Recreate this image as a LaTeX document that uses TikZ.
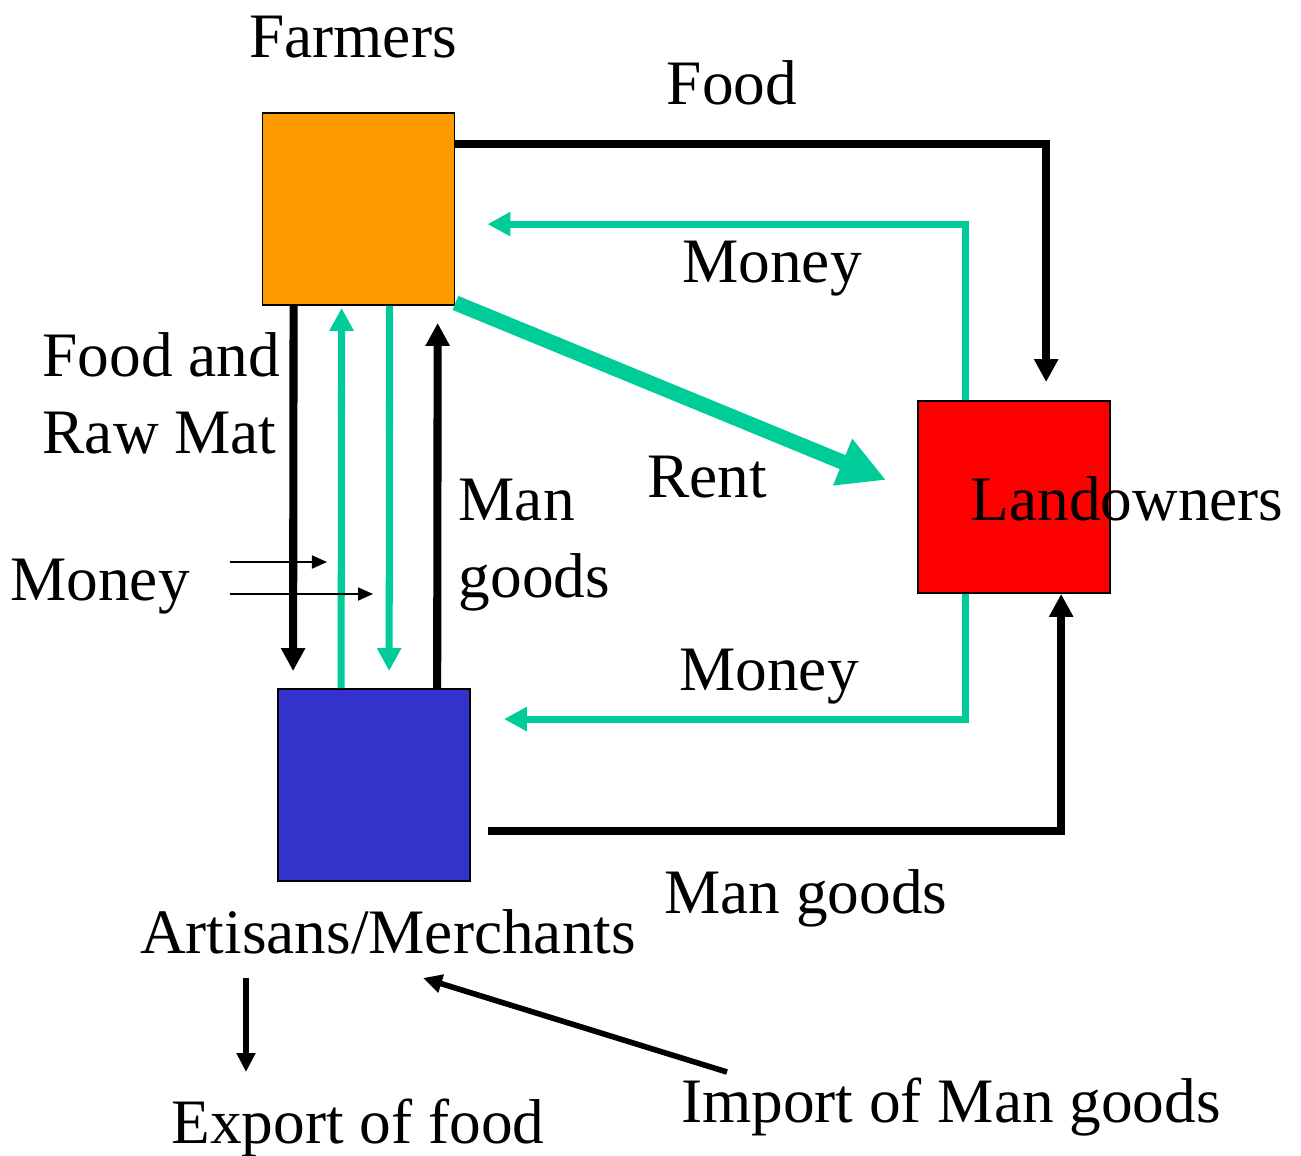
\documentclass[tikz,border=0pt]{standalone}
\usepackage{fontspec}
\setmainfont{Liberation Serif}
\usetikzlibrary{arrows.meta}
\definecolor{flowgreen}{HTML}{00CC99}
\definecolor{farmorange}{HTML}{FF9900}
\definecolor{artblue}{HTML}{3333CC}
\begin{document}
\begin{tikzpicture}[x=0.01cm, y=-0.01cm,
  box/.style={draw, minimum size=1.92cm, inner sep=0pt, line width=0.5pt},
  lbl/.style={inner sep=0pt, font=\fontsize{18}{22}\selectfont},
  goods/.style={draw=black, line width=2.3pt, -{Triangle[length=0.23cm, width=0.23cm]}},
  cash/.style={draw=flowgreen, line width=2pt, -{Triangle[length=0.23cm, width=0.23cm]}},
  thin/.style={draw=black, line width=0.5pt, -{Triangle[length=0.15cm, width=0.13cm]}},
  trade/.style={draw=black, line width=1.6pt, -{Triangle[length=0.19cm, width=0.18cm]}}]
\useasboundingbox (0,0) rectangle (1301,1155);

% sectors
\node[box, fill=farmorange] (Farm) at (358.5,209) {};
\node[box, fill=red] (Land) at (1014,497) {};
\node[box, fill=artblue] (Art) at (374,785) {};

% labels
\node[lbl, anchor=base] (LblFarm) at (353,58) {Farmers};
\node[lbl, anchor=base] (LblLand) at (1127,520) {Landowners};
\node[lbl, anchor=base] (LblArt) at (388,953) {Artisans/Merchants};
\node[lbl, anchor=base] (LblFood) at (732,105) {Food};
\node[lbl, anchor=base] (LblMoneyA) at (772,282) {Money};
\node[lbl, anchor=base] (LblRent) at (707,497) {Rent};
\node[lbl, anchor=base] (LblMoneyB) at (769,690) {Money};
\node[lbl, anchor=base] (LblManGoods) at (806,913) {Man goods};
\node[lbl, anchor=base west] (LblFoodRaw) at (42,376) {Food and};
\node[lbl, anchor=base west] (LblRawMat) at (42,453) {Raw Mat};
\node[lbl, anchor=base west] (LblMan) at (458,520) {Man};
\node[lbl, anchor=base west] (LblGoods) at (458,597) {goods};
\node[lbl, anchor=base] (LblMoneyC) at (100,600) {Money};
\node[lbl, anchor=base] (LblExport) at (358,1143) {Export of food};
\node[lbl, anchor=base] (LblImport) at (951,1122) {Import of Man goods};

\coordinate (MoneyInA) at (230,562);
\coordinate (MoneyOutA) at (327,562);
\coordinate (MoneyInB) at (230,594);
\coordinate (MoneyOutB) at (373,594);
\coordinate (ExportIn) at (246,978);
\coordinate (ExportOut) at (246,1072);
\coordinate (ImportIn) at (727,1072);
\coordinate (ImportOut) at (423,978);

% flows round the square
\draw[goods] ([yshift=-0.32cm]Farm.north east) -| ([xshift=1.29cm,yshift=0.18cm]Land.north west);
\draw[cash] ([xshift=0.48cm]Land.north west) |- ([xshift=0.32cm,yshift=-1.12cm]Farm.north east);
\draw[draw=flowgreen, line width=4.3pt, -{Triangle[length=0.47cm, width=0.47cm]}] ([yshift=0.03cm]Farm.south east) -- ([xshift=-0.31cm,yshift=0.17cm]Land.west);
\draw[cash] ([xshift=0.48cm]Land.south west) |- ([xshift=0.33cm,yshift=-0.31cm]Art.north east);
\draw[goods] ([xshift=0.17cm,yshift=-0.46cm]Art.east) -| ([xshift=1.44cm]Land.south west);

% between farmers and artisans
\draw[goods] ([xshift=0.32cm]Farm.south west) -- ([xshift=0.16cm,yshift=0.17cm]Art.north west);
\draw[cash] ([xshift=0.64cm]Art.north west) -- ([xshift=0.80cm,yshift=-0.02cm]Farm.south west);
\draw[cash] ([xshift=1.28cm]Farm.south west) -- ([xshift=1.12cm,yshift=0.17cm]Art.north west);
\draw[goods] ([xshift=1.60cm]Art.north west) -- ([xshift=1.76cm,yshift=-0.17cm]Farm.south west);

\draw[thin] (MoneyInA) -- (MoneyOutA);
\draw[thin] (MoneyInB) -- (MoneyOutB);

% trade
\draw[trade] (ExportIn) -- (ExportOut);
\draw[trade] (ImportIn) -- (ImportOut);
\end{tikzpicture}
\end{document}
